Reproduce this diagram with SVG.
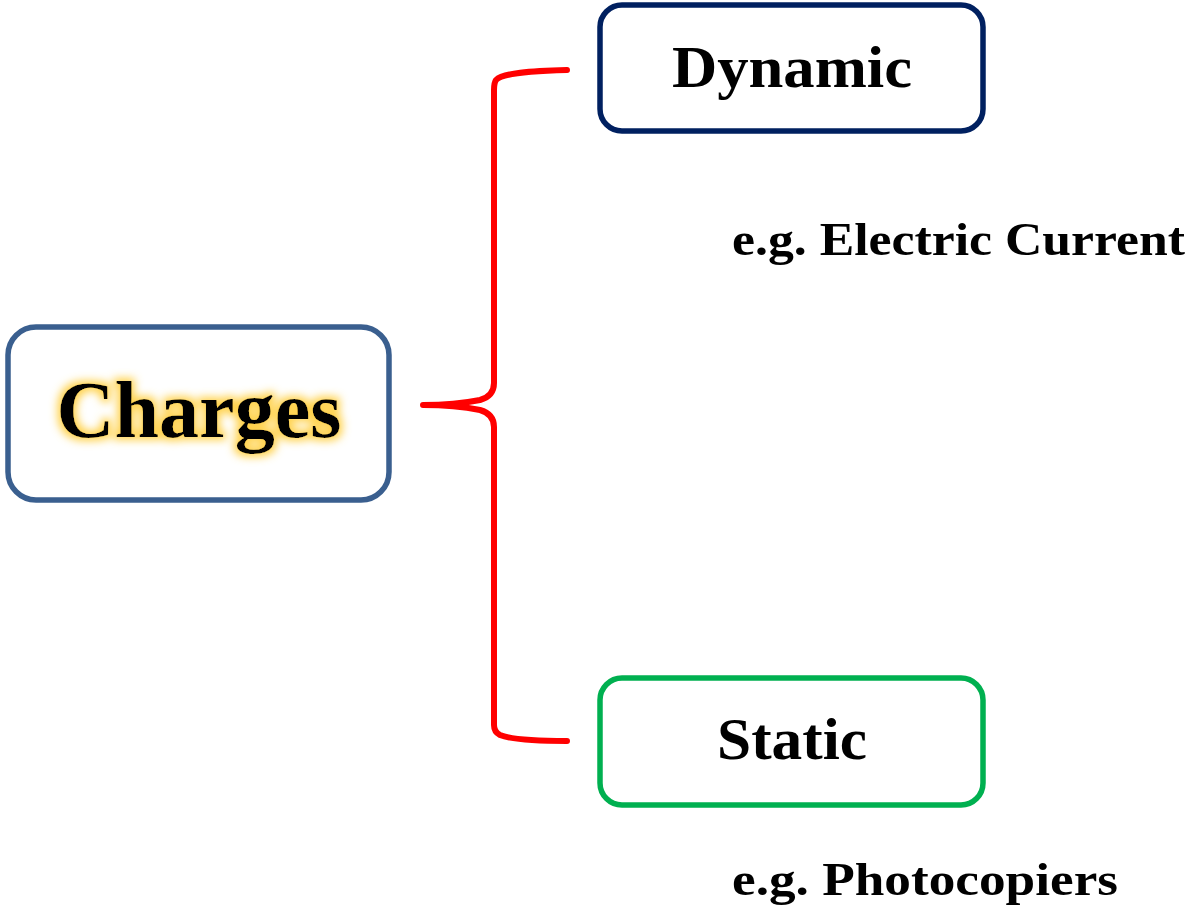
<svg xmlns="http://www.w3.org/2000/svg" width="1191" height="922" viewBox="0 0 1191 922">
<style>
.t{font-family:"Liberation Serif","DejaVu Serif",serif;font-weight:bold;fill:#000}
.box{fill:#fff;stroke-width:5.5}
</style>
<defs>
<filter id="glow" x="-20%" y="-40%" width="140%" height="180%">
<feMorphology in="SourceAlpha" operator="dilate" radius="3" result="d"/>
<feGaussianBlur in="d" stdDeviation="4" result="b"/>
<feFlood flood-color="#FFD24D" result="c"/>
<feComposite in="c" in2="b" operator="in" result="g"/>
<feMerge><feMergeNode in="g"/><feMergeNode in="SourceGraphic"/></feMerge>
</filter>
</defs>
<rect width="1191" height="922" fill="#fff"/>
<g id="connectors">
<path d="M567,70 C530,71 503,73 496,80 Q494,83 494,90 L494,383 Q494,396 480,400 C460,404 440,405 423,405 C440,405 460,406 480,410 Q494,414 494,427 L494,725 Q494,732 500,735 C512,740 535,741 567,741" fill="none" stroke="#FF0000" stroke-width="6" stroke-linecap="round" stroke-linejoin="round"/>
</g>
<g id="charges">
<rect class="box" x="8" y="327" width="381" height="173" rx="28" stroke="#3A5F8F"/>
<text class="t" x="199" y="437" font-size="80" text-anchor="middle" textLength="285" lengthAdjust="spacingAndGlyphs" filter="url(#glow)">Charges</text>
</g>
<g id="dynamic">
<rect class="box" x="600" y="5" width="383" height="126" rx="22" stroke="#002060"/>
<text class="t" x="792" y="87" font-size="60" text-anchor="middle" textLength="240" lengthAdjust="spacingAndGlyphs">Dynamic</text>
</g>
<g id="static">
<rect class="box" x="600" y="678" width="383" height="127" rx="22" stroke="#00B050"/>
<text class="t" x="792" y="759" font-size="60" text-anchor="middle" textLength="150" lengthAdjust="spacingAndGlyphs">Static</text>
</g>
<g id="example-dynamic">
<text class="t" x="732" y="255" font-size="46" textLength="453" lengthAdjust="spacingAndGlyphs">e.g. Electric Current</text>
</g>
<g id="example-static">
<text class="t" x="732" y="895" font-size="46" textLength="386" lengthAdjust="spacingAndGlyphs">e.g. Photocopiers</text>
</g>
</svg>
